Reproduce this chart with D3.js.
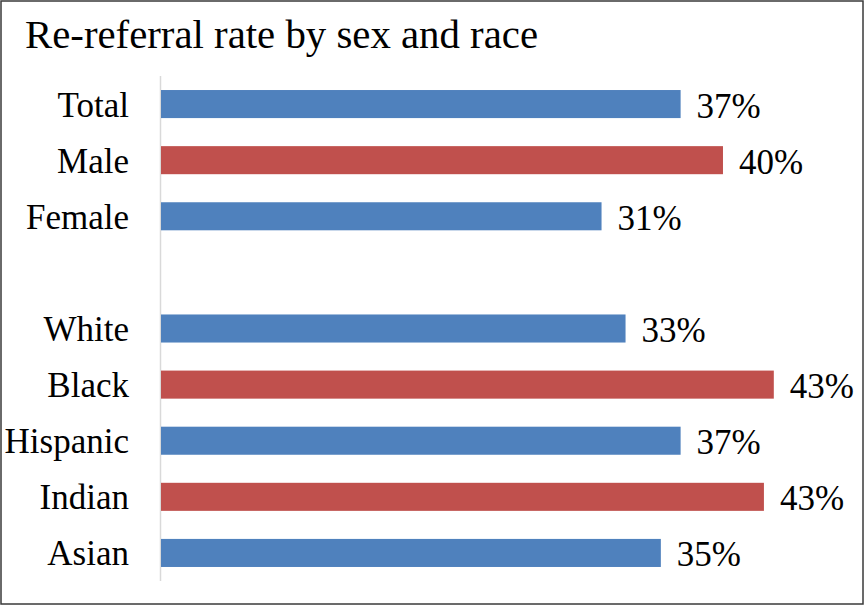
<!DOCTYPE html>
<html>
<head>
<meta charset="utf-8">
<script src="https://cdn.jsdelivr.net/npm/d3@7"></script>
<style>
  html, body { margin: 0; padding: 0; background: #fff; }
  svg { display: block; }
  text { font-family: "Liberation Serif", "Times New Roman", serif; fill: #000; }
</style>
</head>
<body>
<svg id="chart" width="865" height="606"></svg>
<script>
const title = "Re-referral rate by sex and race";
const categories = ["Total", "Male", "Female", "", "White", "Black", "Hispanic", "Indian", "Asian"];
const values = [0.368, 0.398, 0.312, null, 0.329, 0.434, 0.368, 0.427, 0.354];
const barColors = ["#4F81BD", "#C0504D", "#4F81BD", null, "#4F81BD", "#C0504D", "#4F81BD", "#C0504D", "#4F81BD"];

const svg = d3.select("#chart");
const W = 865, H = 606;

svg.append("rect")
  .attr("x", 1).attr("y", 1).attr("width", W - 3).attr("height", H - 3)
  .attr("fill", "#fff").attr("stroke", "#3a3a3a").attr("stroke-width", 1.5);

svg.append("text")
  .attr("x", 25).attr("y", 48)
  .attr("font-size", 39.5)
  .attr("textLength", 513)
  .attr("lengthAdjust", "spacingAndGlyphs")
  .text(title);

const keys = categories.map((c, i) => i);
const y = d3.scaleBand().domain(keys).range([76, 581]).paddingInner(0.5).paddingOuter(0.25);
const x = d3.scaleLinear().domain([0, 0.5]).range([161, 867]);

const data = keys.map(i => ({ i, cat: categories[i], v: values[i], c: barColors[i] }));

// axis line
svg.append("line")
  .attr("x1", 160.5).attr("x2", 160.5)
  .attr("y1", y.range()[0]).attr("y2", y.range()[1])
  .attr("stroke", "#d9d9d9").attr("stroke-width", 1.5);

// category labels
svg.selectAll("text.cat").data(data).join("text")
  .attr("class", "cat")
  .attr("x", 129)
  .attr("y", d => y(d.i) + y.bandwidth() / 2 + 12.5)
  .attr("text-anchor", "end")
  .attr("font-size", 35)
  .text(d => d.cat);

const bars = data.filter(d => d.v != null);

svg.selectAll("rect.bar").data(bars).join("rect")
  .attr("class", "bar")
  .attr("x", x(0))
  .attr("y", d => y(d.i))
  .attr("width", d => x(d.v) - x(0))
  .attr("height", y.bandwidth())
  .attr("fill", d => d.c);

svg.selectAll("text.val").data(bars).join("text")
  .attr("class", "val")
  .attr("x", d => x(d.v) + 16)
  .attr("y", d => y(d.i) + y.bandwidth() / 2 + 13.5)
  .attr("font-size", 35)
  .text(d => Math.round(d.v * 100) + "%");
</script>
</body>
</html>
